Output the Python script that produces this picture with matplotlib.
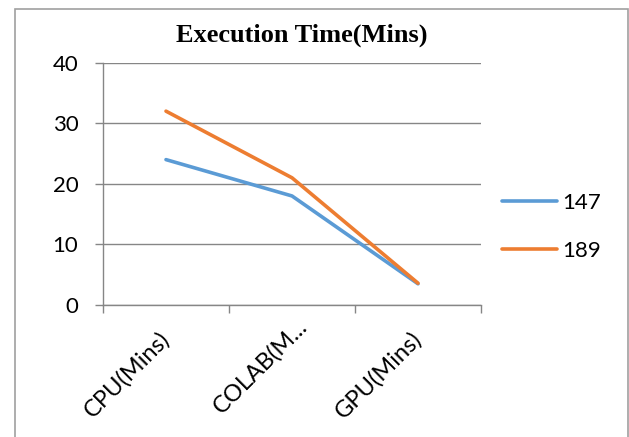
import matplotlib
matplotlib.use("Agg")
import matplotlib.pyplot as plt
from matplotlib.patches import Rectangle
from matplotlib.transforms import ScaledTranslation

categories = ["CPU(Mins)", "COLAB(M...", "GPU(Mins)"]
series_names = ["147", "189"]
values_147 = [24, 18, 3.5]
values_189 = [32, 21, 3.6]
yticks = [0, 10, 20, 30, 40]

BLUE = "#5B9BD5"
ORANGE = "#ED7D31"
GRID = "#868686"
LABEL_FONT = ["Lato", "DejaVu Sans"]

fig = plt.figure(figsize=(6.29, 4.37), dpi=100)
ax = fig.add_axes([103 / 629, 1 - 305 / 437, 378 / 629, 242.3 / 437])

x = list(range(len(categories)))
ax.plot(x, values_147, color=BLUE, lw=2.6, solid_capstyle="round", label=series_names[0])
ax.plot(x, values_189, color=ORANGE, lw=2.6, solid_capstyle="round", label=series_names[1])

ax.set_xlim(-0.5, len(categories) - 0.5)
ax.set_ylim(0, 40)
ax.set_yticks(yticks)
ax.set_yticklabels([str(v) for v in yticks], family=LABEL_FONT, fontsize=16)
ax.yaxis.grid(True, color=GRID, lw=1)
ax.set_axisbelow(True)

# category boundaries carry the tick marks, labels sit at the centres
ax.set_xticks([i - 0.5 for i in range(len(categories) + 1)])
ax.set_xticklabels([])
ax.set_xticks(x, minor=True)
labels = ax.set_xticklabels(categories, minor=True, rotation=45, ha="right", va="center",
                            rotation_mode="anchor", family=LABEL_FONT, fontsize=17)
ax.tick_params(axis="x", which="major", length=5.8, color=GRID, width=1)
ax.tick_params(axis="x", which="minor", length=0, pad=21.5)
ax.tick_params(axis="y", length=5.8, color=GRID, width=1, pad=12)
# the truncated label sits a little higher and to the right in the source
labels[1].set_transform(labels[1].get_transform()
                        + ScaledTranslation(0.12, 0.12, fig.dpi_scale_trans))

for side in ("top", "right"):
    ax.spines[side].set_visible(False)
for side in ("left", "bottom"):
    ax.spines[side].set_color(GRID)
    ax.spines[side].set_linewidth(1)

fig.text(302 / 629, 1 - 42 / 437, "Execution Time(Mins)", ha="center", va="baseline",
         family="Liberation Serif", fontweight="bold", fontsize=19)

fig.legend(loc="center left", bbox_to_anchor=(502 / 629, 1 - 227 / 437), frameon=False,
           prop={"family": LABEL_FONT, "size": 16}, handlelength=2.48, handletextpad=0.22,
           labelspacing=1.28, borderpad=0, borderaxespad=0)

# surrounding chart border (open at the bottom, as in the cropped source)
fig.add_artist(Rectangle((15 / 629, -0.05), 613 / 629, 1.05 - 9 / 437,
                         transform=fig.transFigure, fill=False, edgecolor="#A0A0A0",
                         lw=1.2, clip_on=False))
fig.text(22 / 629, 1 + 9 / 437, "g", family="Liberation Serif", fontweight="bold",
         fontsize=14, ha="left", va="baseline")

fig.savefig("out.png", dpi=100)
